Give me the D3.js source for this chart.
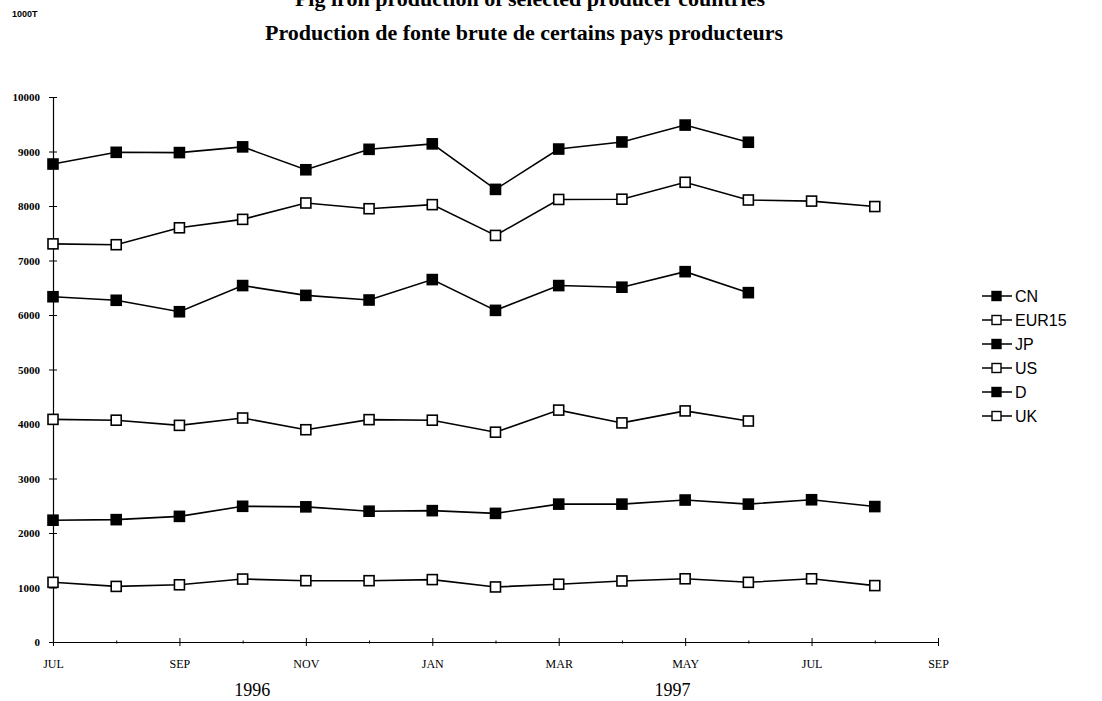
<!DOCTYPE html>
<html><head><meta charset="utf-8">
<script src="https://cdn.jsdelivr.net/npm/d3@7"></script>
<style>body{margin:0;background:#fff}svg{display:block}</style>
</head><body>
<svg id="c" width="1102" height="701"></svg>
<script>
const monthLabels = ["JUL","AUG","SEP","OCT","NOV","DEC","JAN","FEB","MAR","APR","MAY","JUN","JUL","AUG","SEP"];
const shownTicks = [0,2,4,6,8,10,12,14];
const yTicks = [0,1000,2000,3000,4000,5000,6000,7000,8000,9000,10000];
const yearLabels = [{label:"1996", m:3.15},{label:"1997", m:9.8}];

const CN    = [8770,8985,8980,9085,8665,9040,9140,8305,9045,9175,9485,9170];
const EUR15 = [7305,7290,7600,7755,8055,7950,8025,7460,8120,8125,8435,8110,8090,7990];
const JP    = [6335,6270,6060,6540,6360,6275,6650,6085,6540,6510,6795,6410];
const US    = [4085,4070,3975,4110,3895,4080,4070,3850,4255,4020,4240,4055];
const D     = [2235,2245,2305,2490,2480,2400,2410,2360,2530,2530,2605,2530,2610,2485];
const UK    = [1095,1020,1050,1155,1125,1125,1145,1010,1060,1120,1160,1095,1160,1035];

const series = [
  {name:"CN", values:CN, filled:true},
  {name:"EUR15", values:EUR15, filled:false},
  {name:"JP", values:JP, filled:true},
  {name:"US", values:US, filled:false},
  {name:"D", values:D, filled:true},
  {name:"UK", values:UK, filled:false}
];

const svg = d3.select("#c");
const x = d3.scaleLinear().domain([0,14]).range([53,938]);
const y = d3.scaleLinear().domain([0,10000]).range([642,97]);

// Titles
svg.append("text").attr("x",530).attr("y",6).attr("text-anchor","middle")
  .attr("font-family","Liberation Serif, Times New Roman, serif").attr("font-weight","bold")
  .attr("font-size",22).text("Pig iron production of selected producer countries");
svg.append("text").attr("x",524).attr("y",40).attr("text-anchor","middle")
  .attr("font-family","Liberation Serif, Times New Roman, serif").attr("font-weight","bold")
  .attr("font-size",22).text("Production de fonte brute de certains pays producteurs");
svg.append("text").attr("x",12).attr("y",17)
  .attr("font-family","Liberation Sans, Arial, sans-serif").attr("font-weight","bold")
  .attr("font-size",9).text("1000T");

// Y axis
const yAxis = d3.axisLeft(y).tickValues(yTicks).tickFormat(d3.format("d")).tickSizeInner(4).tickSizeOuter(0).tickPadding(9);
const gy = svg.append("g").attr("transform",`translate(${x(0)},0)`).call(yAxis);
gy.selectAll("text").attr("font-family","Liberation Serif, Times New Roman, serif").attr("font-weight","bold").attr("font-size",11).attr("fill","#000");
gy.selectAll(".tick line").attr("x2",4).attr("x1",-4).attr("stroke","#000");
gy.select(".domain").attr("stroke","#000").attr("stroke-width",1.2);

// X axis
const xAxis = d3.axisBottom(x).tickValues(d3.range(0,15)).tickFormat(i => shownTicks.includes(i) ? monthLabels[i] : "").tickSizeInner(0).tickSizeOuter(0).tickPadding(17);
const gx = svg.append("g").attr("transform",`translate(0,${y(0)})`).call(xAxis);
gx.selectAll("text").attr("font-family","Liberation Serif, Times New Roman, serif").attr("font-size",12).attr("fill","#000");
gx.selectAll(".tick line").attr("y1",d => shownTicks.includes(d)? -4 : -1.5).attr("y2",d => shownTicks.includes(d)? 4 : 1.5).attr("stroke","#000");
gx.select(".domain").attr("stroke","#000").attr("stroke-width",1.2);

yearLabels.forEach(yl => {
  svg.append("text").attr("x",x(yl.m)).attr("y",696).attr("text-anchor","middle")
    .attr("font-family","Liberation Serif, Times New Roman, serif").attr("font-size",18).text(yl.label);
});

// Lines and markers
const line = d3.line().x((d,i)=>x(i)).y(d=>y(d));
const ms = 10;
series.forEach(s => {
  svg.append("path").datum(s.values).attr("d",line).attr("fill","none").attr("stroke","#000").attr("stroke-width",1.6);
  svg.selectAll(null).data(s.values).enter().append("rect")
    .attr("x",(d,i)=>x(i)-ms/2).attr("y",d=>y(d)-ms/2).attr("width",ms).attr("height",ms)
    .attr("fill", s.filled ? "#000" : "#fff").attr("stroke","#000").attr("stroke-width",1.6);
});

// Legend
const lg = svg.append("g").attr("transform","translate(982,296)");
series.forEach((s,i) => {
  const g = lg.append("g").attr("transform",`translate(0,${i*24})`);
  g.append("line").attr("x1",0).attr("x2",30).attr("y1",0).attr("y2",0).attr("stroke","#000").attr("stroke-width",1.5);
  g.append("rect").attr("x",10).attr("y",-4.5).attr("width",9).attr("height",9)
    .attr("fill", s.filled ? "#000" : "#fff").attr("stroke","#000").attr("stroke-width",1.4);
  g.append("text").attr("x",33).attr("y",5.5).attr("font-family","Liberation Sans, Arial, sans-serif")
    .attr("font-size",16).text(s.name);
});
</script>
</body></html>
